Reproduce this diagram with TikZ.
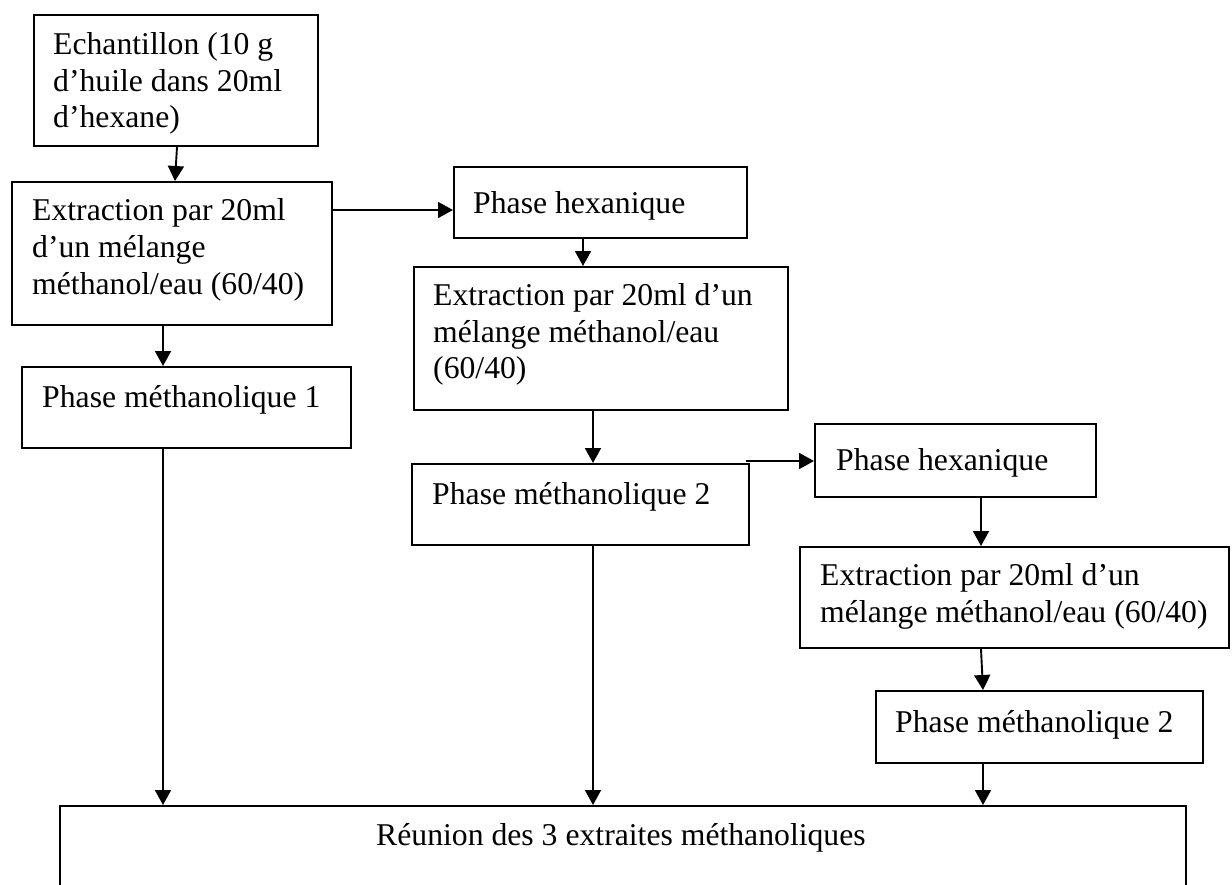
\documentclass[tikz,border=0pt]{standalone}
\usepackage{fontspec}
\setmainfont{Liberation Serif}
\usetikzlibrary{arrows.meta}
\begin{document}
\begin{tikzpicture}[x=1pt,y=-1pt,
  box/.style={draw, line width=1.9pt, inner sep=0pt, anchor=north west},
  txt/.style={anchor=base west, inner sep=0pt, font=\fontsize{31.7}{36.5}\selectfont},
  arr/.style={line width=1.9pt, -{Triangle[length=15pt,width=16pt]}}]
\useasboundingbox (0,0) rectangle (1232,884);
\clip (0,0) rectangle (1232,884);
% boxes
\node[box, minimum width=284pt, minimum height=131pt] (b1) at (33,14) {};
\node[box, minimum width=320pt, minimum height=143pt] (b2) at (11,181) {};
\node[box, minimum width=293pt, minimum height=71pt] (b3) at (453,166) {};
\node[box, minimum width=374pt, minimum height=143pt] (b4) at (413,266) {};
\node[box, minimum width=329pt, minimum height=81pt] (b5) at (21,366) {};
\node[box, minimum width=337pt, minimum height=81pt] (b6) at (411,463) {};
\node[box, minimum width=281pt, minimum height=73pt] (b7) at (814,423) {};
\node[box, minimum width=429pt, minimum height=101pt] (b8) at (799,546) {};
\node[box, minimum width=327pt, minimum height=72pt] (b9) at (875,690) {};
\node[box, minimum width=1126pt, minimum height=120pt] (b10) at (59,805) {};
% texts
\node[txt] (t1a) at (53,54) {Echantillon (10 g};
\node[txt] (t1b) at (53,91) {d’huile dans 20ml};
\node[txt] (t1c) at (53,127) {d’hexane)};
\node[txt] (t2a) at (32,220) {Extraction par 20ml};
\node[txt] (t2b) at (32,257) {d’un mélange};
\node[txt] (t2c) at (32,294) {méthanol/eau (60/40)};
\node[txt] (t3) at (473,213) {Phase hexanique};
\node[txt] (t4a) at (433,305) {Extraction par 20ml d’un};
\node[txt] (t4b) at (433,342) {mélange méthanol/eau};
\node[txt] (t4c) at (433,378) {(60/40)};
\node[txt] (t5) at (42,407) {Phase méthanolique 1};
\node[txt] (t6) at (432,504) {Phase méthanolique 2};
\node[txt] (t7) at (836,470) {Phase hexanique};
\node[txt] (t8a) at (820,585) {Extraction par 20ml d’un};
\node[txt] (t8b) at (820,622) {mélange méthanol/eau (60/40)};
\node[txt] (t9) at (895,732) {Phase méthanolique 2};
\node[txt] (t10) at (376,845) {Réunion des 3 extraites méthanoliques};
% connectors
\draw[arr] ([xshift=144pt]b1.south west) -- ([xshift=164pt]b2.north west);
\draw[arr] ([yshift=-29pt]b2.north east) -- ([yshift=-44pt]b3.north west);
\draw[arr] ([xshift=130pt]b3.south west) -- ([xshift=170pt]b4.north west);
\draw[arr] ([xshift=152pt]b2.south west) -- ([xshift=142pt]b5.north west);
\draw[arr] ([xshift=180pt]b4.south west) -- ([xshift=182pt]b6.north west);
\draw[arr] ([shift={(-4pt,2pt)}]b6.north east) -- ([yshift=-38pt]b7.north west);
\draw[arr] ([xshift=167pt]b7.south west) -- ([xshift=182pt]b8.north west);
\draw[arr] ([xshift=182pt]b8.south west) -- ([xshift=108pt]b9.north west);
\draw[arr] ([xshift=142pt]b5.south west) -- ([xshift=104pt]b10.north west);
\draw[arr] ([xshift=182pt]b6.south west) -- ([xshift=534pt]b10.north west);
\draw[arr] ([xshift=108pt]b9.south west) -- ([xshift=924pt]b10.north west);
\end{tikzpicture}
\end{document}
